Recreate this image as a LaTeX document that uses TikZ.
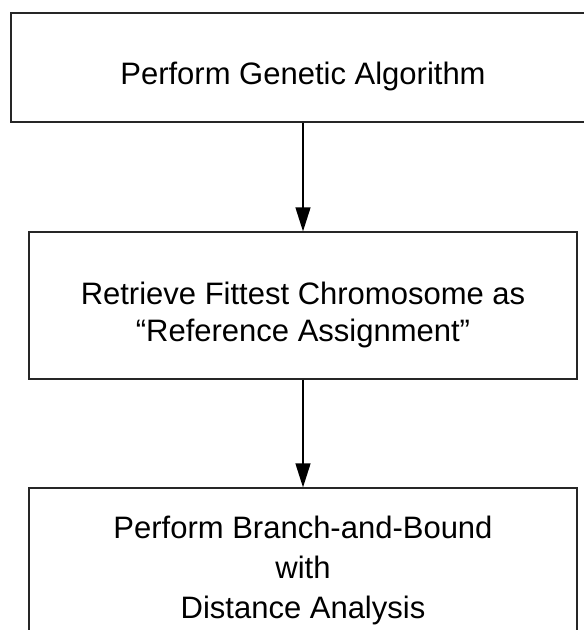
\documentclass[tikz,border=0pt]{standalone}
\usepackage{fontspec}
\setmainfont{Liberation Sans}
\usetikzlibrary{arrows.meta}
\begin{document}
\begin{tikzpicture}[x=1pt,y=-1pt,
  stagebox/.style={draw=black!85,line width=1.3pt,rectangle,inner sep=0pt},
  stagetext/.style={align=center,inner sep=0pt},
  flow/.style={draw=black,line width=1.3pt,-{Triangle[length=24pt,width=15pt]}}]
\useasboundingbox (0,0) rectangle (584,630);
% the three stages of the procedure
\node[stagebox,minimum width=584pt,minimum height=109pt] (ga) at (303,67.5) {};
\node[stagetext,font=\fontsize{31}{37}\selectfont] (gatext) at (303,76)
  {Perform Genetic Algorithm};
\node[stagebox,minimum width=548pt,minimum height=147pt] (ref) at (303,305.5) {};
\node[stagetext,font=\fontsize{31}{37}\selectfont] (reftext) at (303,315)
  {Retrieve Fittest Chromosome as\\``Reference Assignment''};
\node[stagebox,minimum width=548pt,minimum height=172pt] (bnb) at (303,574) {};
\node[stagetext,font=\fontsize{31}{40}\selectfont] (bnbtext) at (303,570)
  {Perform Branch-and-Bound\\with\\Distance Analysis};
% flow between the stages
\draw[flow] (ga.south) -- (ref.north);
\draw[flow] (ref.south) -- (bnb.north);
\end{tikzpicture}
\end{document}
